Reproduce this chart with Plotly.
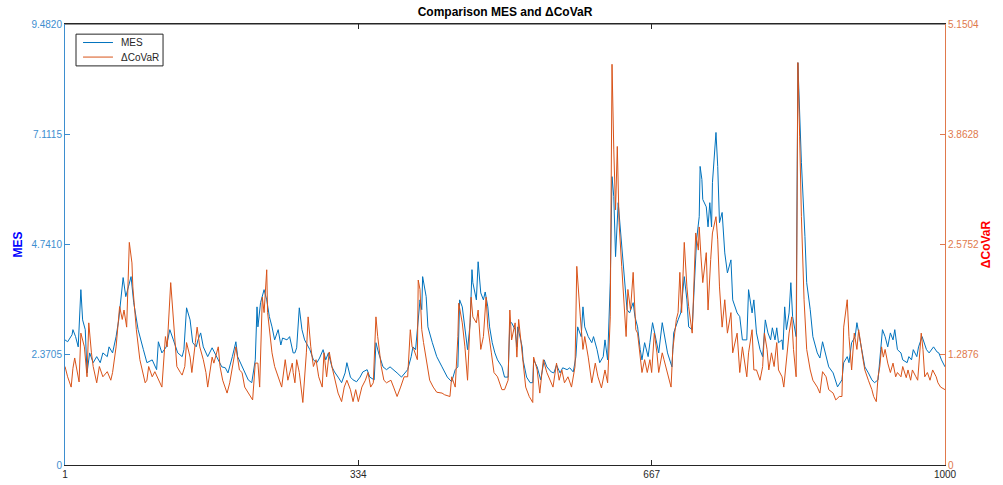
import plotly.graph_objects as go

# ---------------- data ----------------
mes_idx = [1, 4, 9, 10, 13, 16, 19, 21, 24, 26, 29, 33, 37, 41, 44, 49, 51, 55, 59, 62, 67, 70, 73, 76, 79, 84, 90, 94, 100, 105, 107, 111, 116, 120, 124,
           129, 134, 136, 139, 143, 146, 150, 152, 155, 158, 161, 163, 168, 171, 175, 179, 183, 186, 191, 195, 197, 202, 205, 209, 213, 217, 219, 220, 223, 227, 230, 233, 236, 239, 243, 246, 248, 253, 256, 260,
           262, 264, 267, 270, 273, 277, 279, 283, 287, 290, 294, 297, 300, 304, 307, 311, 315, 319, 321, 325, 328, 332, 336, 339, 344, 347, 352, 354, 357, 362, 366, 370, 374, 378, 383,
           387, 390, 394, 396, 399, 402, 404, 406, 407, 411, 413, 418, 423, 429, 435, 440, 444, 447, 449, 452, 455, 458, 461, 463, 464, 468, 470, 473, 476, 478, 481, 483, 486, 489, 492, 497, 500, 504, 506, 508, 512, 514, 515, 520,
           521, 525, 529, 532, 533, 537, 541, 545, 548, 553, 556, 559, 563, 566, 571, 574, 578, 581, 583, 587, 589, 591, 595, 599, 601, 605, 608, 612, 614, 617, 620, 622, 624, 626, 629, 631, 634, 637, 639, 642, 646,
           648, 651, 654, 656, 659, 663, 665, 668, 672, 675, 679, 682, 685, 690, 692, 697, 700, 704, 707, 709, 713, 715, 718, 721, 722, 724, 725, 729, 731, 733, 735, 736, 740, 742, 744, 747, 750, 753, 757, 759, 764, 767, 770, 775, 777, 781, 783,
           786, 790, 793, 796, 799, 802, 804, 807, 809, 811, 815, 816, 818, 820, 823, 825, 827, 831, 833, 835, 837, 841, 843, 847, 850, 855, 858, 861, 865, 868, 873, 876, 878, 883, 885, 889, 891, 894, 898, 900, 903, 907,
           909, 913, 917, 920, 924, 927, 929, 932, 935, 938, 941, 943, 946, 950, 952, 957, 959, 962, 964, 968, 970, 974, 976, 979, 982, 985, 987, 991, 993, 996, 1000]
mes_val = [2.69, 2.65, 2.80, 2.91, 2.76, 2.54, 3.77, 3.12, 2.91, 1.98, 2.41, 2.20, 2.33, 2.20, 2.41, 2.33, 2.54, 2.41, 2.76, 3.12, 4.03, 3.62, 3.83, 4.05, 3.49, 2.91, 2.48, 2.20, 2.26, 2.05, 2.65, 2.41, 2.54, 2.91, 2.69,
           2.41, 2.33, 2.48, 3.38, 3.12, 2.63, 2.54, 2.69, 2.84, 2.54, 2.41, 2.33, 2.52, 2.41, 2.26, 2.11, 2.09, 1.98, 2.33, 2.65, 2.33, 2.11, 2.00, 1.83, 1.77, 2.26, 3.40, 2.97, 3.49, 3.77, 3.55, 3.19, 2.97, 2.69, 2.91, 2.58, 2.73, 2.69, 2.76, 2.41,
           2.41, 2.52, 3.38, 2.91, 2.69, 2.54, 2.48, 2.26, 2.20, 2.30, 2.48, 2.26, 2.41, 2.11, 2.00, 1.89, 1.77, 1.98, 2.20, 1.89, 1.83, 1.79, 1.89, 2.00, 2.05, 1.89, 1.83, 2.63, 2.41, 2.11, 2.05, 2.11, 2.05, 1.98, 1.89,
           1.98, 2.05, 2.33, 2.54, 2.48, 3.06, 3.55, 3.34, 4.05, 3.62, 2.97, 2.63, 2.33, 2.11, 1.89, 1.79, 2.05, 2.11, 3.55, 3.40, 2.97, 2.48, 3.06, 4.20, 3.92, 3.55, 4.37, 3.70, 3.55, 3.72, 3.40, 2.97, 2.63, 2.41, 2.26, 2.11, 1.89, 1.89, 3.06, 3.06, 2.91, 2.54, 2.97, 2.54,
           2.26, 1.89, 1.77, 1.77, 2.26, 2.11, 1.83, 2.26, 2.11, 2.00, 1.98, 2.15, 1.98, 2.09, 2.05, 2.09, 2.00, 2.33, 2.97, 2.76, 3.40, 2.97, 2.76, 2.63, 2.76, 2.48, 2.20, 2.33, 2.69, 2.26, 3.92, 6.20, 5.77, 4.48, 5.64, 5.21, 4.48, 3.92, 3.34, 3.27, 3.49,
           3.19, 2.97, 2.48, 2.26, 2.63, 2.33, 2.63, 3.06, 2.69, 2.41, 3.06, 2.69, 2.41, 2.11, 2.84, 3.12, 3.27, 4.05, 3.55, 2.97, 2.91, 3.70, 4.84, 5.34, 6.42, 6.14, 5.71, 5.55, 5.12, 5.64, 5.12, 6.07, 7.15, 6.42, 5.21, 5.43, 4.56, 4.13, 4.41, 3.55, 3.27, 3.19, 2.69, 2.69, 3.77, 3.27, 3.55,
           2.84, 2.48, 2.33, 3.12, 2.84, 2.69, 2.95, 2.69, 2.95, 2.63, 2.69, 2.48, 3.40, 2.91, 3.27, 3.92, 3.19, 2.76, 8.65, 7.49, 6.50, 4.91, 3.92, 3.34, 2.76, 2.41, 2.30, 2.65, 2.33, 2.11, 1.98, 1.77, 1.68, 1.83, 2.20, 2.33, 2.20, 2.63, 2.76, 3.06, 2.76, 2.33,
           2.11, 1.98, 1.83, 1.77, 1.83, 2.48, 2.91, 2.76, 2.54, 2.84, 2.69, 2.91, 2.48, 2.41, 2.26, 2.20, 2.33, 2.26, 2.48, 2.33, 2.54, 2.76, 2.63, 2.48, 2.41, 2.48, 2.54, 2.43, 2.41, 2.26, 2.11]

covar_idx = [1, 4, 8, 10, 12, 15, 17, 19, 23, 26, 28, 31, 33, 37, 40, 44, 49, 53, 55, 59, 61, 63, 66, 68, 71, 74, 77, 78, 82, 86, 92, 94, 96, 100, 103, 107, 111, 115, 117, 121, 124, 128, 132,
             134, 137, 139, 143, 145, 149, 151, 154, 158, 161, 163, 168, 170, 175, 177, 180, 185, 188, 192, 195, 199, 202, 205, 210, 214, 217, 220, 222, 225, 227, 230, 231, 236, 239, 243, 247, 251, 254, 259,
             260, 262, 264, 267, 270, 271, 275, 277, 280, 283, 286, 289, 293, 295, 298, 301, 304, 307, 311, 315, 318, 321, 325, 328, 331, 334, 338, 342, 345, 348, 351, 354, 356, 360, 363, 366, 371, 374, 378, 382, 386,
             390, 393, 395, 397, 401, 402, 404, 406, 408, 412, 415, 419, 423, 429, 432, 438, 440, 444, 447, 448, 452, 455, 458, 462, 464, 468, 470, 473, 476, 479, 481, 485, 488, 492, 497, 500, 504, 506, 508, 512, 514, 516,
             521, 524, 528, 532, 533, 537, 540, 544, 548, 552, 555, 559, 562, 565, 568, 572, 576, 580, 582, 586, 589, 591, 595, 599, 603, 606, 610, 614, 617, 620, 622, 624, 626, 628, 630, 633, 636, 638, 640, 643, 646, 649,
             651, 654, 656, 659, 662, 665, 667, 670, 673, 675, 679, 681, 685, 689, 691, 695, 697, 699, 701, 704, 707, 709, 713, 715, 717, 720, 721, 723, 725, 729, 731, 734, 736, 740, 742, 744, 747, 750, 753, 757, 759, 764, 767, 770, 775, 777, 781,
             783, 786, 790, 793, 795, 798, 800, 803, 806, 809, 811, 815, 817, 820, 823, 826, 828, 831, 833, 835, 837, 840, 843, 847, 850, 855, 858, 861, 865, 868, 873, 876, 880, 883, 885, 889, 891, 894, 897, 900, 902, 907,
             909, 913, 917, 919, 922, 924, 926, 928, 930, 932, 935, 938, 941, 944, 946, 950, 952, 956, 958, 961, 963, 967, 969, 973, 975, 977, 980, 983, 986, 990, 992, 995, 1000]
covar_val = [1.15, 1.03, 0.91, 1.13, 1.25, 1.08, 0.97, 1.54, 1.38, 1.03, 1.66, 1.31, 1.15, 0.96, 1.15, 1.03, 1.09, 0.99, 1.08, 1.38, 1.58, 1.85, 1.70, 1.81, 1.61, 2.60, 2.36, 2.08, 1.58, 1.23, 0.96, 0.99, 1.15, 1.03, 1.09, 0.99, 0.91, 1.50, 1.38, 2.13, 1.70, 1.15, 1.08,
             1.05, 1.15, 1.43, 1.26, 1.08, 1.43, 1.61, 1.38, 1.23, 1.08, 0.91, 1.26, 1.19, 1.38, 1.15, 0.99, 0.84, 0.96, 1.19, 1.38, 1.11, 1.08, 0.91, 0.82, 0.76, 1.19, 1.19, 0.91, 1.96, 1.78, 2.28, 1.78, 1.31, 1.15, 1.03, 0.91, 1.23, 0.99, 1.19,
             1.08, 0.96, 1.23, 1.08, 0.84, 0.73, 1.31, 1.73, 1.38, 1.15, 1.23, 1.03, 0.91, 1.31, 1.03, 1.32, 1.15, 1.03, 0.84, 0.74, 0.91, 0.99, 0.88, 0.74, 0.88, 0.74, 0.91, 0.99, 1.08, 0.91, 0.96, 1.73, 1.50, 1.15, 0.99, 0.96, 0.99, 0.91, 0.80, 0.91, 1.03,
             1.03, 1.58, 1.38, 1.35, 1.23, 2.16, 2.05, 1.58, 1.43, 1.15, 0.99, 0.91, 0.85, 0.84, 0.82, 0.80, 1.03, 0.91, 1.50, 1.89, 1.66, 1.38, 0.99, 1.96, 1.73, 1.66, 1.81, 1.35, 1.50, 1.96, 1.61, 1.31, 1.08, 1.03, 0.88, 0.88, 0.99, 1.81, 1.46, 1.66, 1.26, 1.70,
             1.15, 0.91, 0.80, 0.73, 1.26, 1.11, 0.84, 1.23, 1.08, 0.99, 0.91, 1.19, 0.99, 1.11, 0.96, 1.03, 0.91, 1.15, 2.32, 1.73, 1.35, 1.50, 1.26, 0.96, 1.19, 1.03, 0.90, 1.11, 0.96, 1.73, 4.68, 3.68, 2.98, 3.72, 2.83, 2.32, 1.81, 1.50, 2.05, 1.81, 2.25, 1.58,
             1.54, 1.23, 1.08, 1.23, 1.08, 1.23, 1.08, 1.54, 1.31, 1.08, 1.31, 1.23, 1.08, 0.91, 1.35, 1.70, 1.78, 2.25, 1.78, 2.60, 2.08, 1.85, 1.54, 2.25, 2.71, 2.51, 2.78, 2.43, 2.13, 2.48, 1.81, 2.40, 2.71, 2.90, 2.63, 2.08, 1.61, 1.93, 1.54, 1.78, 1.31, 1.54, 1.08, 1.38, 1.03, 1.31, 1.58,
             1.11, 1.11, 0.99, 1.15, 1.54, 1.35, 1.11, 1.31, 1.15, 1.43, 1.11, 1.03, 0.91, 1.23, 1.54, 1.73, 1.35, 1.03, 4.70, 3.84, 2.90, 1.93, 1.35, 1.11, 0.99, 0.91, 0.84, 1.09, 1.03, 0.88, 0.84, 0.76, 0.80, 0.80, 1.61, 1.93, 1.50, 1.11, 1.54, 1.35, 1.58, 1.23,
             1.11, 0.99, 0.88, 0.80, 0.74, 1.03, 1.15, 1.38, 1.26, 1.35, 1.19, 1.08, 1.19, 1.03, 1.08, 1.03, 1.15, 1.02, 1.11, 0.99, 1.11, 1.03, 0.99, 1.54, 1.35, 1.03, 1.08, 0.99, 1.11, 1.03, 0.96, 0.91, 0.88]

left_ticks = [0, 2.3705, 4.7410, 7.1115, 9.4820]
left_labels = ["0", "2.3705", "4.7410", "7.1115", "9.4820"]
right_ticks = [0, 1.2876, 2.5752, 3.8628, 5.1504]
right_labels = ["0", "1.2876", "2.5752", "3.8628", "5.1504"]
x_ticks = [1, 334, 667, 1000]
series_names = ["MES", "\u0394CoVaR"]

# ---------------- styling ----------------
BLUE = "#0072BD"
ORANGE = "#D95319"
LBLUE_TXT = "#3D8ECF"
ORANGE_TXT = "#E0794C"
DARK = "#262626"
FONT = "Liberation Sans, Arial, sans-serif"

fig = go.Figure()
fig.add_trace(go.Scatter(x=mes_idx, y=mes_val, mode="lines", name=series_names[0],
                         line=dict(color=BLUE, width=1), yaxis="y", showlegend=False))
fig.add_trace(go.Scatter(x=covar_idx, y=covar_val, mode="lines", name=series_names[1],
                         line=dict(color=ORANGE, width=1), yaxis="y2", showlegend=False))

# MATLAB-style legend box (top-left, inside axes)
fig.add_shape(type="rect", xref="paper", yref="paper", x0=0.0125, x1=0.1114, y0=0.905, y1=0.977,
              line=dict(color=DARK, width=1), fillcolor="white", layer="above")
legend_rows = [(0.958, BLUE), (0.925, ORANGE)]
for (yy, col), nm in zip(legend_rows, series_names):
    fig.add_shape(type="line", xref="paper", yref="paper", x0=0.0205, x1=0.0545, y0=yy, y1=yy,
                  line=dict(color=col, width=1), layer="above")
    fig.add_annotation(xref="paper", yref="paper", x=0.0614, y=yy, text=nm, showarrow=False,
                       xanchor="left", yanchor="middle", font=dict(size=10, color=DARK, family=FONT))

# top box edge
fig.add_shape(type="line", xref="paper", yref="paper", x0=0, x1=1, y0=1, y1=1,
              line=dict(color=DARK, width=1), layer="above")

fig.update_layout(
    width=1003, height=485,
    margin=dict(l=65, r=58, t=24, b=20),
    paper_bgcolor="white", plot_bgcolor="white",
    font=dict(family=FONT, size=10, color=DARK),
    title=dict(text="<b>Comparison MES and \u0394CoVaR</b>", x=0.5035, xanchor="center",
               yref="container", y=0.976, yanchor="middle",
               font=dict(size=12, color="#000000", family=FONT)),
    showlegend=False,
    xaxis=dict(range=[1, 1000], tickvals=x_ticks, ticktext=[str(v) for v in x_ticks],
               showgrid=False, zeroline=False, showline=True, linecolor=DARK, linewidth=1,
               mirror="ticks", ticks="inside", ticklen=5, tickcolor=DARK, automargin=False,
               tickfont=dict(size=10, color=DARK)),
    yaxis=dict(range=[0, 9.482], tickvals=left_ticks, ticktext=left_labels,
               showgrid=False, zeroline=False, showline=True, linecolor=LBLUE_TXT, linewidth=1,
               ticks="inside", ticklen=5, tickcolor=LBLUE_TXT, automargin=False,
               tickfont=dict(size=10, color=LBLUE_TXT),
               title=dict(text="<b>MES</b>", font=dict(size=12, color="#0000FF"), standoff=6)),
    yaxis2=dict(range=[0, 5.1504], tickvals=right_ticks, ticktext=right_labels,
                overlaying="y", side="right", anchor="x",
                showgrid=False, zeroline=False, showline=True, linecolor=ORANGE_TXT, linewidth=1,
                ticks="inside", ticklen=5, tickcolor=ORANGE_TXT, automargin=False,
                tickfont=dict(size=10, color=ORANGE_TXT),
                title=dict(text="<b>\u0394CoVaR</b>", font=dict(size=12, color="#FF0000"), standoff=2)),
)

fig.write_html("out.html", config={"displayModeBar": False},
               post_script="document.body.style.margin='0px';")
